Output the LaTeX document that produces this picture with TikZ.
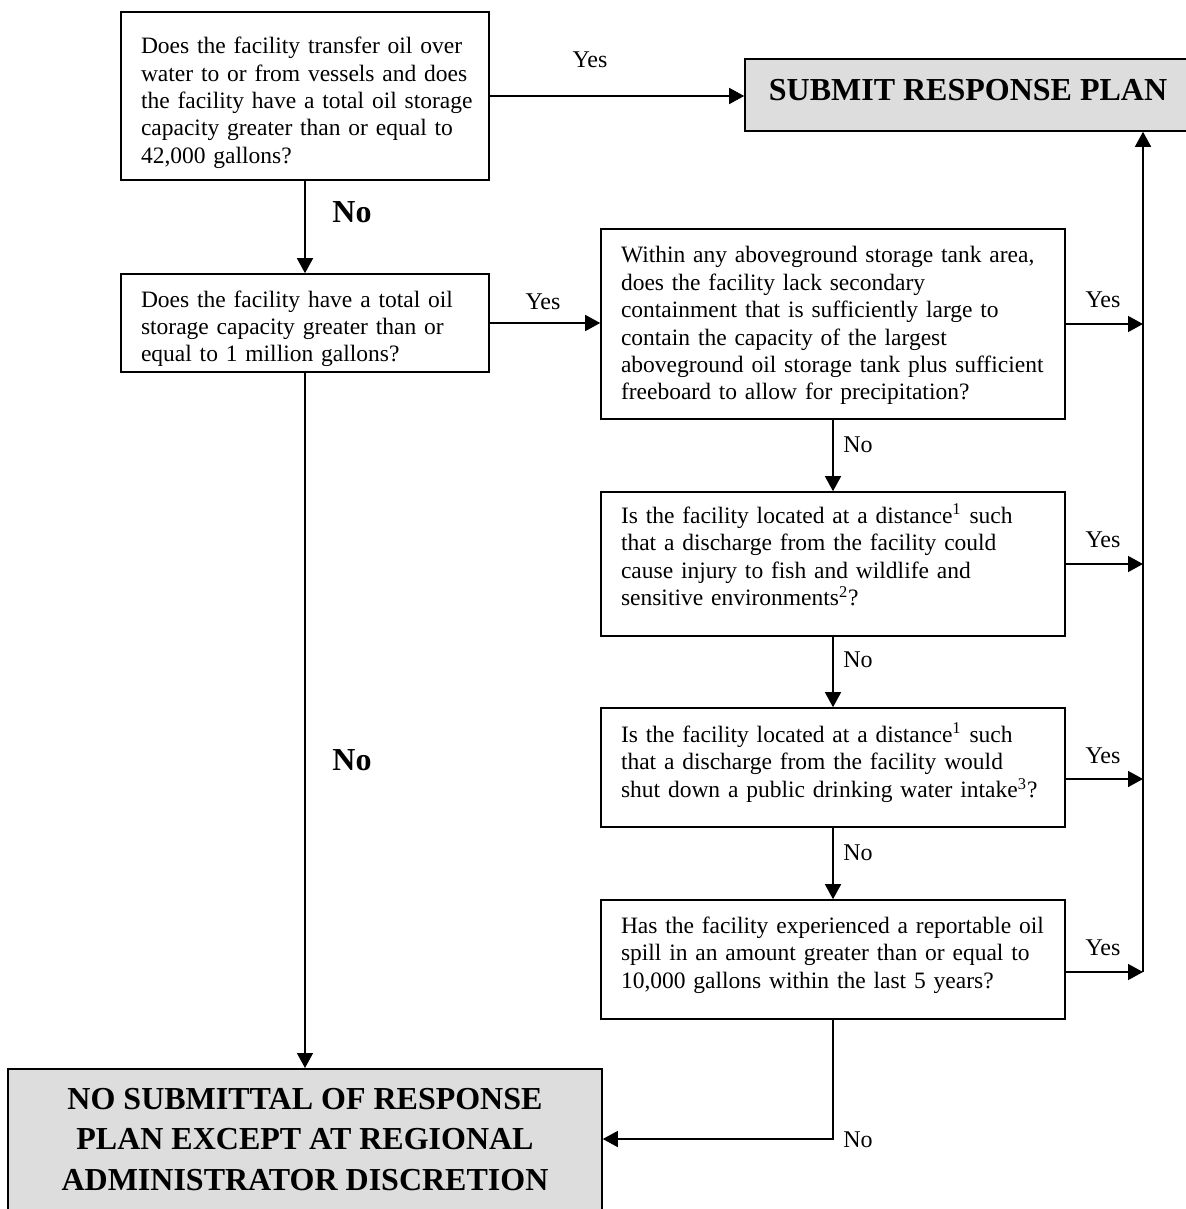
\documentclass[tikz,border=0pt]{standalone}
\usepackage{fontspec}
\setmainfont{Liberation Serif}
\usetikzlibrary{arrows.meta}
\definecolor{boxgray}{RGB}{221,221,221}
\newcommand\qtext[2][0pt]{\raisebox{#1}[\height][\depth]{\begin{tabular}{@{}l@{}}#2\end{tabular}}}
\begin{document}
\begin{tikzpicture}[x=0.5pt,y=-0.5pt,
  qbox/.style={draw, line width=0.8pt, inner xsep=10pt, inner ysep=3pt, align=left,
    font=\fontsize{11.75}{13.7}\selectfont},
  wide/.style={text width=164pt},
  wider/.style={text width=212pt},
  endbox/.style={draw, line width=0.8pt, fill=boxgray, inner xsep=4pt},
  conn/.style={line width=0.75pt, -{Triangle[length=7.5pt,width=8pt]}},
  lbl/.style={font=\fontsize{12}{14}\selectfont, inner sep=0pt},
  blbl/.style={font=\fontsize{16}{18}\selectfont\bfseries, inner sep=0pt}]

\path[use as bounding box, fill=white] (0,0) rectangle (1185,1209);

% question boxes
\node[qbox, wide, minimum height=84pt] (b1) at (305,96)
  {\qtext[-3.5pt]{Does the facility transfer oil over\\water to or from vessels and does\\the facility have a total oil storage\\capacity greater than or equal to\\42,000 gallons?}};
\node[qbox, wide, minimum height=49pt] (b2) at (305,323)
  {\qtext[-3pt]{Does the facility have a total oil\\storage capacity greater than or\\equal to 1 million gallons?}};
\node[qbox, wider, minimum height=95pt] (b3) at (833,324)
  {\qtext[-1pt]{Within any aboveground storage tank area,\\does the facility lack secondary\\containment that is sufficiently large to\\contain the capacity of the largest\\aboveground oil storage tank plus sufficient\\freeboard to allow for precipitation?}};
\node[qbox, wider, minimum height=72pt] (b4) at (833,564)
  {\qtext[2.5pt]{Is the facility located at a distance\textsuperscript{1} such\\that a discharge from the facility could\\cause injury to fish and wildlife and\\sensitive environments\textsuperscript{2}?}};
\node[qbox, wider, minimum height=59.5pt] (b5) at (833,767.5)
  {\qtext[1.5pt]{Is the facility located at a distance\textsuperscript{1} such\\that a discharge from the facility would\\shut down a public drinking water intake\textsuperscript{3}?}};
\node[qbox, wider, minimum height=59.5pt] (b6) at (833,959.5)
  {\qtext[2pt]{Has the facility experienced a reportable oil\\spill in an amount greater than or equal to\\10,000 gallons within the last 5 years?}};

% outcome boxes
\node[endbox, inner ysep=10pt] (submit) at (968,95)
  {\parbox[c][16pt][t]{215pt}{\centering\fontsize{16}{19}\selectfont\bfseries SUBMIT RESPONSE PLAN}};
\node[endbox, inner ysep=9.5pt, anchor=north] (nosub) at (305,1068)
  {\parbox[c][66pt][t]{289pt}{\centering\fontsize{16}{20.25}\selectfont\bfseries NO SUBMITTAL OF RESPONSE\\PLAN EXCEPT AT REGIONAL\\ADMINISTRATOR DISCRETION}};

% connectors
\draw[conn] (b1.east) -- (b1.east -| submit.west);
\node[lbl] (yes1) at (590,60) {Yes};
\draw[conn] (b1.south) -- (b2.north);
\node[blbl] (no1) at (352,212) {No};
\draw[conn] (b2.east) -- (b2.east -| b3.west);
\node[lbl] (yes2) at (543,302) {Yes};

\coordinate (rail) at (1143,972);
\draw[conn] (rail) -- (rail |- submit.south);
\coordinate (y3) at (b3.east);
\coordinate (y4) at (b4.east);
\coordinate (y5) at ([yshift=-5.75pt]b5.east);
\coordinate (y6) at ([yshift=-6.25pt]b6.east);
\draw[conn] (y3) -- (y3 -| rail);
\draw[conn] (y4) -- (y4 -| rail);
\draw[conn] (y5) -- (y5 -| rail);
\draw[conn] (y6) -- (y6 -| rail);
\node[lbl] (yes3) at (1103,300) {Yes};
\node[lbl] (yes4) at (1103,540) {Yes};
\node[lbl] (yes5) at (1103,756) {Yes};
\node[lbl] (yes6) at (1103,948) {Yes};

\draw[conn] (b3.south) -- (b4.north);
\node[lbl] (no3) at (858,445) {No};
\draw[conn] (b4.south) -- (b5.north);
\node[lbl] (no4) at (858,660) {No};
\draw[conn] (b5.south) -- (b6.north);
\node[lbl] (no5) at (858,853) {No};

\coordinate (turn) at (833,1139);
\draw[conn] (b6.south) -- (turn) -- (turn -| nosub.east);
\node[lbl] (no6) at (858,1140) {No};

\draw[conn] (b2.south) -- (nosub.north);
\node[blbl] (no2) at (352,760) {No};
\end{tikzpicture}
\end{document}
